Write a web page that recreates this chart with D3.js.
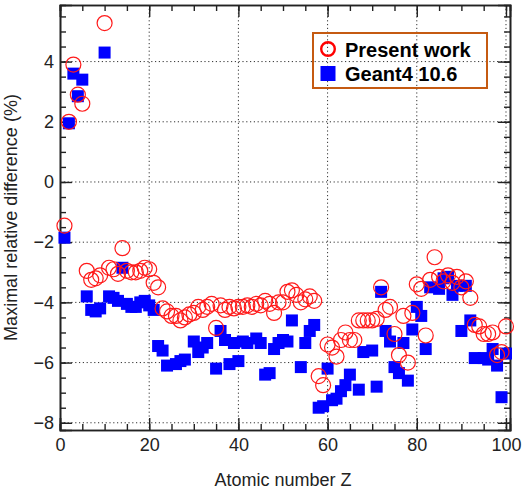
<!DOCTYPE html>
<html>
<head>
<meta charset="utf-8">
<script src="https://cdn.jsdelivr.net/npm/d3@7"></script>
<style>
  html, body { margin: 0; padding: 0; background: #fff; }
  svg { display: block; }
  text { font-family: "Liberation Sans", Arial, sans-serif; }
</style>
</head>
<body>
<svg id="chart" width="524" height="491"></svg>
<script>
// ---- Data ----
const zPresent = d3.range(1, 101);
const vPresent = [
  -1.45, 2.0, 3.9, 2.9, 2.6, -2.95, -3.25, -3.2, -3.1, 5.28,
  -2.85, -2.9, -3.05, -2.2, -2.95, -3.0, -3.0, -2.95, -2.85, -2.9,
  -3.35, -3.5, -4.2, -4.3, -4.45, -4.45, -4.6, -4.5, -4.4, -4.35,
  -4.15, -4.25, -4.15, -4.05, -4.85, -4.1, -4.25, -4.15, -4.2, -4.15,
  -4.15, -4.1, -4.15, -4.05, -4.1, -3.95, -4.05, -4.35, -4.0, -4.0,
  -3.65, -3.6, -3.75, -4.0, -3.9, -3.8, -3.95, -6.45, -6.75, -5.4,
  -5.5, -5.8, -5.25, -5.0, -5.25, -5.25, -4.6, -4.6, -4.6, -4.6,
  -4.55, -3.5, -4.25, -4.15, -5.05, -5.75, -4.45, -6.0, -4.35, -3.4,
  -3.55, -5.1, -3.25, -2.5, -3.15, -3.3, -3.1, -3.35, -3.15, -3.5,
  -3.3, -3.85, -4.75, -4.8, -5.05, -5.05, -5.0, -5.75, -5.65, -4.8
];
const zGeant = [
  1, 2, 3, 4, 5, 6, 7, 8, 9, 10,
  11, 12, 13, 14, 15, 16, 17, 18, 19, 20,
  21, 22, 23, 24, 26, 27, 28, 30, 31, 32,
  33, 35, 36, 37, 38, 39, 40, 41, 42, 44,
  45, 46, 47, 48, 49, 50, 51, 52, 54, 55,
  56, 57, 58, 59, 60, 61, 62, 63, 64, 65,
  67, 68, 70, 71, 72, 73, 74, 75, 76, 77,
  78, 79, 80, 81, 82, 83, 85, 86, 87, 88,
  89, 90, 91, 92, 93, 95, 96, 97, 98, 99, 100
];
const vGeant = [
  -1.85, 1.95, 3.6, 2.85, 3.4, -3.8, -4.25, -4.3, -4.2, 4.3,
  -3.8, -3.85, -3.95, -2.85, -4.05, -4.15, -4.15, -4.0, -3.95, -4.1,
  -4.25, -5.45, -5.6, -6.1, -6.05, -5.95, -5.9, -5.3, -5.65, -5.5,
  -5.35, -6.2, -4.95, -5.25, -6.05, -5.35, -5.95, -5.3, -5.35, -5.2,
  -5.35, -6.4, -6.35, -5.55, -5.35, -5.25, -5.3, -4.6, -6.15, -5.35,
  -4.95, -4.75, -7.5, -7.45, -6.2, -7.25, -7.2, -6.95, -6.75, -6.4,
  -6.9, -5.65, -5.6, -6.8, -3.65, -4.95, -5.3, -6.15, -6.35, -5.35,
  -6.6, -4.9, -4.15, -4.45, -5.55, -3.5, -3.55, -3.2, -3.15, -3.75,
  -3.45, -4.95, -3.45, -4.6, -5.85, -5.85, -5.9, -5.55, -6.1, -7.15, -5.7
];
const xTicks = [0, 20, 40, 60, 80, 100];
const yTicks = [-8, -6, -4, -2, 0, 2, 4];
const legendLabels = ["Present work", "Geant4 10.6"];

// ---- Layout ----
const svg = d3.select("#chart");
const L = 60, R = 510, T = 5, B = 430;
const x = d3.scaleLinear().domain([0, 100.9]).range([L, R]);
const y = d3.scaleLinear().domain([-8.24, 5.88]).range([B, T]);
const ink = "#222";

// grid
const grid = svg.append("g").attr("stroke", "#333").attr("stroke-width", 1)
  .attr("stroke-dasharray", "1.2,2.6");
grid.selectAll(".gx").data(xTicks.filter(d => d > 0)).join("line")
  .attr("x1", d => x(d)).attr("x2", d => x(d)).attr("y1", T).attr("y2", B);
grid.selectAll(".gy").data(yTicks).join("line")
  .attr("x1", L).attr("x2", R).attr("y1", d => y(d)).attr("y2", d => y(d));

// axes (ROOT style ticks inside)
const fmt = d3.format("d");
const xMinor = d3.range(0, 101, 5);
const yMinor = d3.range(-8, 5.6, 0.5);

const axB = svg.append("g").attr("transform", `translate(0,${B})`)
  .call(d3.axisBottom(x).tickValues(xMinor).tickSize(-6).tickFormat(""));
const axB2 = svg.append("g").attr("transform", `translate(0,${B})`)
  .call(d3.axisBottom(x).tickValues(xTicks).tickSize(-12).tickPadding(20).tickFormat(fmt));
const axT = svg.append("g").attr("transform", `translate(0,${T})`)
  .call(d3.axisTop(x).tickValues(xMinor).tickSize(-6).tickFormat(""));
const axT2 = svg.append("g").attr("transform", `translate(0,${T})`)
  .call(d3.axisTop(x).tickValues(xTicks).tickSize(-12).tickFormat(""));
const axL = svg.append("g").attr("transform", `translate(${L},0)`)
  .call(d3.axisLeft(y).tickValues(yMinor).tickSize(-6).tickFormat(""));
const axL2 = svg.append("g").attr("transform", `translate(${L},0)`)
  .call(d3.axisLeft(y).tickValues(yTicks).tickSize(-12).tickPadding(6).tickFormat(d3.format("d")));
const axR = svg.append("g").attr("transform", `translate(${R},0)`)
  .call(d3.axisRight(y).tickValues(yMinor).tickSize(-6).tickFormat(""));
const axR2 = svg.append("g").attr("transform", `translate(${R},0)`)
  .call(d3.axisRight(y).tickValues(yTicks).tickSize(-12).tickFormat(""));

[axB, axB2, axT, axT2, axL, axL2, axR, axR2].forEach(g => {
  g.selectAll("path.domain").attr("stroke", ink).attr("stroke-width", 1.6);
  g.selectAll(".tick line").attr("stroke", ink).attr("stroke-width", 1.4);
  g.selectAll(".tick text").attr("fill", ink).attr("font-size", 18)
    .attr("font-family", "'Liberation Sans', Arial, sans-serif");
});
// keep only bottom x labels' offset: adjust
axB2.selectAll(".tick text").attr("dy", "0.71em").attr("y", 8);
axL2.selectAll(".tick text").attr("x", -6);

// axis titles
svg.append("text").attr("x", (L + x(100)) / 2).attr("y", 486)
  .attr("text-anchor", "middle").attr("font-size", 18).attr("fill", ink)
  .text("Atomic number Z");
svg.append("text").attr("transform", `translate(17,${(T + B) / 2}) rotate(-90)`)
  .attr("text-anchor", "middle").attr("font-size", 18).attr("fill", ink)
  .text("Maximal relative difference (%)");

// data marks
const sq = 12;
svg.append("g").selectAll("rect").data(zGeant.map((z, i) => [z, vGeant[i]])).join("rect")
  .attr("x", d => x(d[0]) - sq / 2).attr("y", d => y(d[1]) - sq / 2)
  .attr("width", sq).attr("height", sq).attr("fill", "#0000ff");
svg.append("g").selectAll("circle").data(zPresent.map((z, i) => [z, vPresent[i]])).join("circle")
  .attr("cx", d => x(d[0])).attr("cy", d => y(d[1])).attr("r", 7.5)
  .attr("fill", "none").attr("stroke", "#ff1a1a").attr("stroke-width", 1.2);

// legend
const lg = svg.append("g");
lg.append("rect").attr("x", 313).attr("y", 33).attr("width", 174).attr("height", 55)
  .attr("fill", "none").attr("stroke", "#c55a11").attr("stroke-width", 2);
lg.append("circle").attr("cx", 328).attr("cy", 49).attr("r", 6.8)
  .attr("fill", "none").attr("stroke", "#ff0000").attr("stroke-width", 2.4);
lg.append("rect").attr("x", 320.5).attr("y", 66).attr("width", 15).attr("height", 15)
  .attr("fill", "#0000ff");
lg.selectAll("text.lab").data(legendLabels).join("text")
  .attr("x", 345).attr("y", (d, i) => 56.5 + i * 24.5)
  .attr("font-size", 20).attr("font-weight", "bold").attr("fill", "#000")
  .text(d => d);
</script>
</body>
</html>
